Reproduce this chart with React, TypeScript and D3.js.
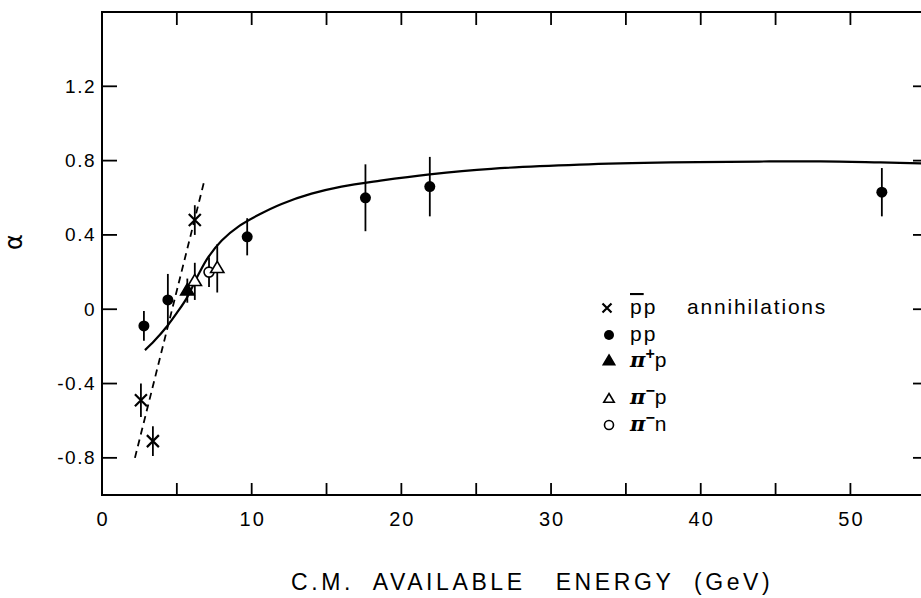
import React from "react";
import * as d3 from "d3";

// axis ticks
const energyTicks = [0, 5, 10, 15, 20, 25, 30, 35, 40, 45, 50, 55];
const energyLabels = [0, 10, 20, 30, 40, 50];
const alphaTicks = [1.2, 0.8, 0.4, 0, -0.4, -0.8];

// pbar-p annihilations
const pbarpE = [2.6, 3.4, 6.2];
const pbarpAlpha = [-0.49, -0.71, 0.48];
const pbarpErr = [0.09, 0.08, 0.08];

// p p
const ppE = [2.8, 4.4, 9.7, 17.6, 21.9, 52.1];
const ppAlpha = [-0.09, 0.05, 0.39, 0.6, 0.66, 0.63];
const ppErr = [0.08, 0.14, 0.1, 0.18, 0.16, 0.13];

// pi+ p
const piPlusPE = [5.7];
const piPlusPAlpha = [0.1];
const piPlusPErr = [0.065];

// pi- p
const piMinusPE = [6.2, 7.7];
const piMinusPAlpha = [0.15, 0.22];
const piMinusPErr = [0.1, 0.13];

// pi- n
const piMinusNE = [7.15];
const piMinusNAlpha = [0.2];
const piMinusNErr = [0.08];

// solid curve
const fitE = [2.87, 3.5, 4.36, 5.0, 5.66, 6.4, 7.1, 8.0, 9.2, 10.5, 12, 14, 16, 18.6, 21.9, 26, 31.9, 38, 43.9, 48, 52, 55.3];
const fitAlpha = [-0.22, -0.17, -0.09, -0.02, 0.06, 0.18, 0.28, 0.37, 0.45, 0.51, 0.567, 0.622, 0.66, 0.692, 0.726, 0.756, 0.778, 0.79, 0.795, 0.796, 0.79, 0.784];

// dashed line
const dashE = [2.2, 6.8];
const dashAlpha = [-0.8, 0.68];

const W = 921;
const H = 598;
const font = "'Liberation Sans', Arial, sans-serif";

export default function App() {
  const x = d3.scaleLinear().domain([0, 55.25]).range([102, 929]);
  const y = d3.scaleLinear().domain([-1, 1.6]).range([495, 12]);

  const line = d3
    .line<number>()
    .x((_, i) => x(fitE[i]))
    .y((d) => y(d))
    .curve(d3.curveCatmullRom);
  const dash = d3
    .line<number>()
    .x((_, i) => x(dashE[i]))
    .y((d) => y(d));

  const fmt = (t: number) => (t === 0 ? "0" : d3.format(".1f")(t).replace("−", "-"));

  const errBars = (es: number[], as: number[], errs: number[], key: string) =>
    es.map((e, i) => (
      <line
        key={key + i}
        x1={x(e)}
        x2={x(e)}
        y1={y(as[i] + errs[i])}
        y2={y(as[i] - errs[i])}
        stroke="#000"
        strokeWidth={1.8}
      />
    ));

  const cross = (cx: number, cy: number, s: number, k: string) => (
    <path
      key={k}
      d={`M${cx - s},${cy - s}L${cx + s},${cy + s}M${cx - s},${cy + s}L${cx + s},${cy - s}`}
      stroke="#000"
      strokeWidth={2.2}
    />
  );
  const tri = (cx: number, cy: number, s: number, filled: boolean, k: string) => (
    <path
      key={k}
      d={`M${cx},${cy - s}L${cx + s * 0.95},${cy + s * 0.6}L${cx - s * 0.95},${cy + s * 0.6}Z`}
      fill={filled ? "#000" : "#fff"}
      stroke="#000"
      strokeWidth={1.6}
    />
  );

  return (
    <svg
      width={W}
      height={H}
      style={{ position: "absolute", left: 0, top: 0, background: "#fff" }}
      fontFamily={font}
    >
      <rect width={W} height={H} fill="#fff" />
      {/* frame */}
      <rect x={102} y={12} width={827} height={483} fill="none" stroke="#000" strokeWidth={2} />

      {/* x ticks top & bottom */}
      {energyTicks.map((t) => (
        <g key={"xt" + t}>
          <line x1={x(t)} x2={x(t)} y1={495} y2={483} stroke="#000" strokeWidth={1.8} />
          <line x1={x(t)} x2={x(t)} y1={12} y2={25} stroke="#000" strokeWidth={1.8} />
        </g>
      ))}
      {energyLabels.map((t) => (
        <text
          key={"xl" + t}
          x={x(t) + 1}
          y={526}
          textAnchor="middle"
          fontSize={20}
          letterSpacing={2}
        >
          {t}
        </text>
      ))}

      {/* y ticks left & right */}
      {alphaTicks.map((t) => (
        <g key={"yt" + t}>
          <line x1={102} x2={117} y1={y(t)} y2={y(t)} stroke="#000" strokeWidth={1.8} />
          <line x1={929} x2={913} y1={y(t)} y2={y(t)} stroke="#000" strokeWidth={1.8} />
          <text
            x={96}
            y={y(t) + 6.5}
            textAnchor="end"
            fontSize={19}
            letterSpacing={1.5}
          >
            {fmt(t)}
          </text>
        </g>
      ))}

      {/* axis titles */}
      <text
        transform="translate(22,242) rotate(-90)"
        textAnchor="middle"
        fontSize={24}
        fontFamily="'DejaVu Sans', sans-serif"
      >
        α
      </text>
      <text x={291} y={590} fontSize={23} letterSpacing={3.6} xmlSpace="preserve">
        C.M.  AVAILABLE   ENERGY  (GeV)
      </text>

      {/* curves */}
      <path d={line(fitAlpha) || ""} fill="none" stroke="#000" strokeWidth={2.2} />
      <path
        d={dash(dashAlpha) || ""}
        fill="none"
        stroke="#000"
        strokeWidth={1.8}
        strokeDasharray="7,5"
      />

      {/* error bars */}
      {errBars(pbarpE, pbarpAlpha, pbarpErr, "eb0")}
      {errBars(ppE, ppAlpha, ppErr, "eb1")}
      {errBars(piPlusPE, piPlusPAlpha, piPlusPErr, "eb2")}
      {errBars(piMinusPE, piMinusPAlpha, piMinusPErr, "eb3")}
      {errBars(piMinusNE, piMinusNAlpha, piMinusNErr, "eb4")}

      {/* markers */}
      {pbarpE.map((e, i) => cross(x(e), y(pbarpAlpha[i]), 6, "c" + i))}
      {ppE.map((e, i) => (
        <circle key={"pp" + i} cx={x(e)} cy={y(ppAlpha[i])} r={5.5} fill="#000" />
      ))}
      {piPlusPE.map((e, i) => tri(x(e), y(piPlusPAlpha[i]), 7, true, "tp" + i))}
      {piMinusNE.map((e, i) => (
        <circle
          key={"pn" + i}
          cx={x(e)}
          cy={y(piMinusNAlpha[i])}
          r={5}
          fill="#fff"
          stroke="#000"
          strokeWidth={1.6}
        />
      ))}
      {piMinusPE.map((e, i) => tri(x(e), y(piMinusPAlpha[i]), 7, false, "tm" + i))}

      {/* legend */}
      <g fontSize={21}>
        {cross(607, 308, 4.5, "lg0")}
        <text x={630} y={314} letterSpacing={2}>
          <tspan textDecoration="overline">p</tspan>p
        </text>
        <text x={687} y={314} letterSpacing={1.8}>
          annihilations
        </text>

        <circle cx={609} cy={335} r={5} fill="#000" />
        <text x={630} y={341} letterSpacing={2}>
          pp
        </text>

        {tri(609, 361, 6, true, "lg2")}
        <text x={630} y={367}>
          <tspan fontStyle="italic" fontWeight="bold" fontFamily="'DejaVu Serif', serif">π</tspan>
          <tspan dy={-8} fontSize={16} fontWeight="bold">+</tspan>
          <tspan dy={8}>p</tspan>
        </text>

        {tri(609, 399, 5.5, false, "lg3")}
        <text x={630} y={404}>
          <tspan fontStyle="italic" fontWeight="bold" fontFamily="'DejaVu Serif', serif">π</tspan>
          <tspan dy={-8} fontSize={16} fontWeight="bold">−</tspan>
          <tspan dy={8}>p</tspan>
        </text>

        <circle cx={609} cy={425} r={4.5} fill="#fff" stroke="#000" strokeWidth={1.6} />
        <text x={630} y={431}>
          <tspan fontStyle="italic" fontWeight="bold" fontFamily="'DejaVu Serif', serif">π</tspan>
          <tspan dy={-8} fontSize={16} fontWeight="bold">−</tspan>
          <tspan dy={8}>n</tspan>
        </text>
      </g>
    </svg>
  );
}
